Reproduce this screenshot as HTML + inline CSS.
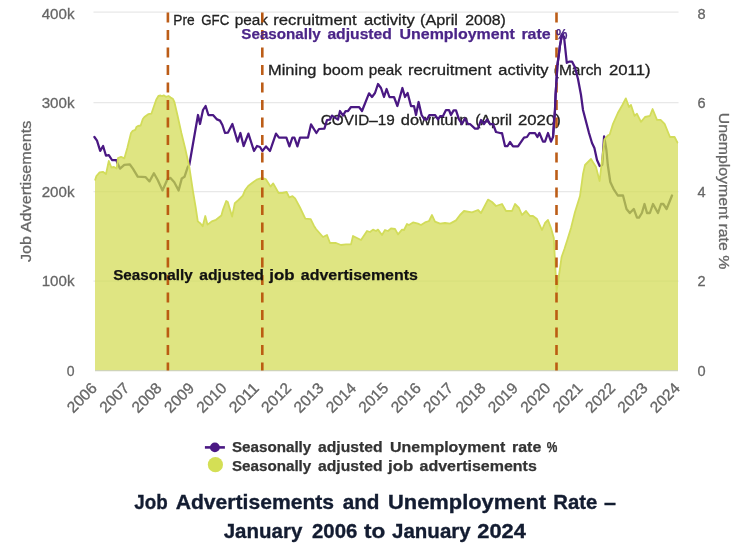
<!DOCTYPE html>
<html><head><meta charset="utf-8"><title>Job Advertisements and Unemployment Rate</title>
<style>html,body{margin:0;padding:0;background:#fff;}body{width:750px;height:560px;overflow:hidden;}svg{display:block;}text{font-family:"Liberation Sans",sans-serif;}</style></head><body>
<svg width="750" height="560" viewBox="0 0 750 560">
<defs><clipPath id="ac"><polygon points="95,180.4 96.4,176 99.6,172.3 102.9,171.8 106,174 108.8,161 111.4,167.5 114,167 116.6,168.5 118,158 121,156.8 124.3,158.4 127.3,148 131,133 132.7,130.8 135.3,129.8 136.4,127 138,126 140.7,125.5 142.8,119 144.4,117 148.2,114.2 151.4,113.7 153,109 156.2,99.8 158.4,96 160.5,95.5 162.1,96.2 163.7,95.3 165.9,96.8 168.5,96 170.7,97.6 172.8,98.7 174.4,102 177.6,115.8 181.4,133 185.1,148 189.3,167 193,191.4 195.7,207.5 197.8,221.4 200.5,223.5 202.7,226.2 205.3,216 207.5,224.6 209.1,223.5 211.8,221.4 216,219.8 221.4,215.5 223,209.6 226.2,201 227.8,202.1 232.1,216.6 234.8,203.2 238.5,200 242.8,195.7 245,190.3 248.2,186 252.4,182.8 256.7,179.6 259.9,178.6 262.5,178 265.7,179.1 270.5,186.6 273.2,183.4 278.6,193 282.3,193 286.6,192 289.3,197.3 292.5,196.2 295.1,198.4 300,207.5 305.3,218.7 310.7,219.2 313.9,225.7 316,229 323,237 327,235 330,243 336,243 341,245 346,244.4 351,244.4 353,236 361,240 367,231 370,232 373,229.6 376,231 378,229.6 382,235 385,230 388,231 391,228.4 395,229 398,234.4 402,229.6 404,230 407,224 409,225 413,222.4 418,223.6 421,225 425,222.4 429,221 432,215 435,221.6 440,223.6 445,223 450,223.6 456,220.4 460,215 464,211 472,212.4 478,210 481,213 488,199.6 492,202 496,206 502,204 506,211 512,211 515,204 519,208 522,215 526,211 530,216 533,216 537,219 542,230 545,223 548,220 551,228 553.8,238 556.6,291 559.2,274 561.6,257 564.4,249 567.3,240 571,228 575,212 580,196 583,174 585,165 591,159 596,167 599.6,181 604.4,139.5 607.7,135.6 609.7,134.5 613,123.8 617.8,113 622.4,105 625.8,98.4 629,107 631,105 634.5,115.8 637,113.8 641,121.8 645,117 650,115.8 652.6,109 657,119.8 660.6,119.8 664.6,123.8 670,137 674.6,137 677.5,142.6 678,143 678,370.5 95,370.5"/></clipPath></defs>
<rect width="750" height="560" fill="#ffffff"/>
<g style="filter:blur(0.45px)">
<line x1="93.5" x2="678.5" y1="12" y2="12" stroke="#e8e8e8" stroke-width="1.25"/>
<line x1="93.5" x2="678.5" y1="102.7" y2="102.7" stroke="#e8e8e8" stroke-width="1.25"/>
<line x1="93.5" x2="678.5" y1="191.7" y2="191.7" stroke="#e8e8e8" stroke-width="1.25"/>
<line x1="93.5" x2="678.5" y1="281" y2="281" stroke="#e8e8e8" stroke-width="1.25"/>
<g fill="#222222" stroke="#222222" stroke-width="0.3" font-size="15.5">
<text x="173.3" y="25" textLength="21.4" lengthAdjust="spacingAndGlyphs">Pre</text>
<text x="201.3" y="25" textLength="28.0" lengthAdjust="spacingAndGlyphs">GFC</text>
<text x="234.7" y="25" textLength="33.3" lengthAdjust="spacingAndGlyphs">peak</text>
<text x="273.3" y="25" textLength="83.3" lengthAdjust="spacingAndGlyphs">recruitment</text>
<text x="364.0" y="25" textLength="50.7" lengthAdjust="spacingAndGlyphs">activity</text>
<text x="420.0" y="25" textLength="37.9" lengthAdjust="spacingAndGlyphs">(April</text>
<text x="465.3" y="25" textLength="40.6" lengthAdjust="spacingAndGlyphs">2008)</text>
<text x="268.0" y="75" textLength="48.5" lengthAdjust="spacingAndGlyphs">Mining</text>
<text x="322.7" y="75" textLength="40.8" lengthAdjust="spacingAndGlyphs">boom</text>
<text x="368.8" y="75" textLength="33.1" lengthAdjust="spacingAndGlyphs">peak</text>
<text x="408.0" y="75" textLength="83.5" lengthAdjust="spacingAndGlyphs">recruitment</text>
<text x="498.3" y="75" textLength="50.3" lengthAdjust="spacingAndGlyphs">activity</text>
<text x="553.8" y="75" textLength="48.2" lengthAdjust="spacingAndGlyphs">(March</text>
<text x="609.0" y="75" textLength="41.5" lengthAdjust="spacingAndGlyphs">2011)</text>
<text x="320.8" y="125" textLength="73.9" lengthAdjust="spacingAndGlyphs">COVID–19</text>
<text x="400.8" y="125" textLength="67.5" lengthAdjust="spacingAndGlyphs">downturn</text>
<text x="475.2" y="125" textLength="36.8" lengthAdjust="spacingAndGlyphs">(April</text>
<text x="518.0" y="125" textLength="42.8" lengthAdjust="spacingAndGlyphs">2020)</text>
</g>
<polyline points="94.4,137 97,140.7 100.2,150.9 103.1,146 106,155.7 108.8,155.2 112,160 116.3,160 117.3,163 120,168.6 124.3,164.8 129.7,164.3 132.9,168.6 137.7,176.6 145.7,177.2 149.5,181.4 153.9,173.2 157.7,180 162.5,190.5 167.3,179.5 170.5,177.9 174.3,182.2 178.6,190.5 181.8,178.4 184.5,176.8 187.7,167.1 189.3,165 198,115 200,124 203,110 205.6,106 208.4,115 213,115 217,119.4 220,120.6 222.4,125 225,133 228,132.6 232.4,124 237.6,141.6 240.4,133 243.6,146 248.4,133.6 254,151 257,146 260,147 262.4,151 266,146.4 270,151 276,133.6 279,137.6 286.4,137.6 289.4,146.4 292.4,137.6 294.4,137.6 297.4,146.4 300,137.6 308,137.6 311,124.4 316.4,133 319,129 324.4,128.6 327,120 330,119.6 332,115.6 338,119.6 340,111 343,115.6 345.6,111 348,111 351,107 359,107 362,111 369,93.3 372,97 375,93 378,84 381,88 384,97 386.6,89 389.4,97 394,97 397.4,106 402.4,88 405,97 407.6,93 411,106 414,106 416,115 418.6,102 421.6,115 424.4,119.4 427,119.4 429.4,115 435,115 438,119.4 440.4,116 443,116 446,110 449,110 451,115 453.6,110.4 456,110.4 459,119.4 462,124 465,118.4 468,124 470,124 475,128.6 478,128.6 481,120 484,124 487,119.6 490,124 493,124 496,132 500,133 502,133 505,146 507.6,146 510,142 513,146.4 518,146.4 524,137.6 527,137 529.6,133 535,133 537.4,137 539.4,133 543,141.6 545,141.6 548,133 551,141.6 553,137 555,110 555.6,95 557.4,65.5 560,45.4 562,34.7 564,36.7 566.8,62.8 569.5,61.5 572,61.5 574.8,66.9 578,79 581,95 583,110 589,133 592,143 594.4,148 597,160 599.7,166 602.2,165 604.1,136.3 606.4,150 607.8,165 610.3,182 613.5,188.8 617.8,195.5 623,195.5 626.5,209 629.8,213 633.8,209 637,217.6 639,217.6 641.9,213 644.5,204 647,213 649.9,213 653,204 658,213 661,204 663.3,204 666.6,209 672,195.5" fill="none" stroke="#4a1883" stroke-width="2.25" stroke-linejoin="round" stroke-linecap="round"/>
<polygon points="95,180.4 96.4,176 99.6,172.3 102.9,171.8 106,174 108.8,161 111.4,167.5 114,167 116.6,168.5 118,158 121,156.8 124.3,158.4 127.3,148 131,133 132.7,130.8 135.3,129.8 136.4,127 138,126 140.7,125.5 142.8,119 144.4,117 148.2,114.2 151.4,113.7 153,109 156.2,99.8 158.4,96 160.5,95.5 162.1,96.2 163.7,95.3 165.9,96.8 168.5,96 170.7,97.6 172.8,98.7 174.4,102 177.6,115.8 181.4,133 185.1,148 189.3,167 193,191.4 195.7,207.5 197.8,221.4 200.5,223.5 202.7,226.2 205.3,216 207.5,224.6 209.1,223.5 211.8,221.4 216,219.8 221.4,215.5 223,209.6 226.2,201 227.8,202.1 232.1,216.6 234.8,203.2 238.5,200 242.8,195.7 245,190.3 248.2,186 252.4,182.8 256.7,179.6 259.9,178.6 262.5,178 265.7,179.1 270.5,186.6 273.2,183.4 278.6,193 282.3,193 286.6,192 289.3,197.3 292.5,196.2 295.1,198.4 300,207.5 305.3,218.7 310.7,219.2 313.9,225.7 316,229 323,237 327,235 330,243 336,243 341,245 346,244.4 351,244.4 353,236 361,240 367,231 370,232 373,229.6 376,231 378,229.6 382,235 385,230 388,231 391,228.4 395,229 398,234.4 402,229.6 404,230 407,224 409,225 413,222.4 418,223.6 421,225 425,222.4 429,221 432,215 435,221.6 440,223.6 445,223 450,223.6 456,220.4 460,215 464,211 472,212.4 478,210 481,213 488,199.6 492,202 496,206 502,204 506,211 512,211 515,204 519,208 522,215 526,211 530,216 533,216 537,219 542,230 545,223 548,220 551,228 553.8,238 556.6,291 559.2,274 561.6,257 564.4,249 567.3,240 571,228 575,212 580,196 583,174 585,165 591,159 596,167 599.6,181 604.4,139.5 607.7,135.6 609.7,134.5 613,123.8 617.8,113 622.4,105 625.8,98.4 629,107 631,105 634.5,115.8 637,113.8 641,121.8 645,117 650,115.8 652.6,109 657,119.8 660.6,119.8 664.6,123.8 670,137 674.6,137 677.5,142.6 678,143 678,370.5 95,370.5" fill="#dfe582"/>
<g clip-path="url(#ac)">
<line x1="93.5" x2="678.5" y1="12" y2="12" stroke="#d9e07c" stroke-width="1.25"/>
<line x1="93.5" x2="678.5" y1="102.7" y2="102.7" stroke="#d9e07c" stroke-width="1.25"/>
<line x1="93.5" x2="678.5" y1="191.7" y2="191.7" stroke="#d9e07c" stroke-width="1.25"/>
<line x1="93.5" x2="678.5" y1="281" y2="281" stroke="#d9e07c" stroke-width="1.25"/>
<polyline points="94.4,137 97,140.7 100.2,150.9 103.1,146 106,155.7 108.8,155.2 112,160 116.3,160 117.3,163 120,168.6 124.3,164.8 129.7,164.3 132.9,168.6 137.7,176.6 145.7,177.2 149.5,181.4 153.9,173.2 157.7,180 162.5,190.5 167.3,179.5 170.5,177.9 174.3,182.2 178.6,190.5 181.8,178.4 184.5,176.8 187.7,167.1 189.3,165 198,115 200,124 203,110 205.6,106 208.4,115 213,115 217,119.4 220,120.6 222.4,125 225,133 228,132.6 232.4,124 237.6,141.6 240.4,133 243.6,146 248.4,133.6 254,151 257,146 260,147 262.4,151 266,146.4 270,151 276,133.6 279,137.6 286.4,137.6 289.4,146.4 292.4,137.6 294.4,137.6 297.4,146.4 300,137.6 308,137.6 311,124.4 316.4,133 319,129 324.4,128.6 327,120 330,119.6 332,115.6 338,119.6 340,111 343,115.6 345.6,111 348,111 351,107 359,107 362,111 369,93.3 372,97 375,93 378,84 381,88 384,97 386.6,89 389.4,97 394,97 397.4,106 402.4,88 405,97 407.6,93 411,106 414,106 416,115 418.6,102 421.6,115 424.4,119.4 427,119.4 429.4,115 435,115 438,119.4 440.4,116 443,116 446,110 449,110 451,115 453.6,110.4 456,110.4 459,119.4 462,124 465,118.4 468,124 470,124 475,128.6 478,128.6 481,120 484,124 487,119.6 490,124 493,124 496,132 500,133 502,133 505,146 507.6,146 510,142 513,146.4 518,146.4 524,137.6 527,137 529.6,133 535,133 537.4,137 539.4,133 543,141.6 545,141.6 548,133 551,141.6 553,137 555,110 555.6,95 557.4,65.5 560,45.4 562,34.7 564,36.7 566.8,62.8 569.5,61.5 572,61.5 574.8,66.9 578,79 581,95 583,110 589,133 592,143 594.4,148 597,160 599.7,166 602.2,165 604.1,136.3 606.4,150 607.8,165 610.3,182 613.5,188.8 617.8,195.5 623,195.5 626.5,209 629.8,213 633.8,209 637,217.6 639,217.6 641.9,213 644.5,204 647,213 649.9,213 653,204 658,213 661,204 663.3,204 666.6,209 672,195.5" fill="none" stroke="#a8ae55" stroke-width="2.3" stroke-linejoin="round" stroke-linecap="round"/>
</g>
<polyline points="95,180.4 96.4,176 99.6,172.3 102.9,171.8 106,174 108.8,161 111.4,167.5 114,167 116.6,168.5 118,158 121,156.8 124.3,158.4 127.3,148 131,133 132.7,130.8 135.3,129.8 136.4,127 138,126 140.7,125.5 142.8,119 144.4,117 148.2,114.2 151.4,113.7 153,109 156.2,99.8 158.4,96 160.5,95.5 162.1,96.2 163.7,95.3 165.9,96.8 168.5,96 170.7,97.6 172.8,98.7 174.4,102 177.6,115.8 181.4,133 185.1,148 189.3,167 193,191.4 195.7,207.5 197.8,221.4 200.5,223.5 202.7,226.2 205.3,216 207.5,224.6 209.1,223.5 211.8,221.4 216,219.8 221.4,215.5 223,209.6 226.2,201 227.8,202.1 232.1,216.6 234.8,203.2 238.5,200 242.8,195.7 245,190.3 248.2,186 252.4,182.8 256.7,179.6 259.9,178.6 262.5,178 265.7,179.1 270.5,186.6 273.2,183.4 278.6,193 282.3,193 286.6,192 289.3,197.3 292.5,196.2 295.1,198.4 300,207.5 305.3,218.7 310.7,219.2 313.9,225.7 316,229 323,237 327,235 330,243 336,243 341,245 346,244.4 351,244.4 353,236 361,240 367,231 370,232 373,229.6 376,231 378,229.6 382,235 385,230 388,231 391,228.4 395,229 398,234.4 402,229.6 404,230 407,224 409,225 413,222.4 418,223.6 421,225 425,222.4 429,221 432,215 435,221.6 440,223.6 445,223 450,223.6 456,220.4 460,215 464,211 472,212.4 478,210 481,213 488,199.6 492,202 496,206 502,204 506,211 512,211 515,204 519,208 522,215 526,211 530,216 533,216 537,219 542,230 545,223 548,220 551,228 553.8,238 556.6,291 559.2,274 561.6,257 564.4,249 567.3,240 571,228 575,212 580,196 583,174 585,165 591,159 596,167 599.6,181 604.4,139.5 607.7,135.6 609.7,134.5 613,123.8 617.8,113 622.4,105 625.8,98.4 629,107 631,105 634.5,115.8 637,113.8 641,121.8 645,117 650,115.8 652.6,109 657,119.8 660.6,119.8 664.6,123.8 670,137 674.6,137 677.5,142.6 678,143" fill="none" stroke="#d2dc5a" stroke-width="1.8" stroke-linejoin="round"/>
<line x1="95" x2="678" y1="370.5" y2="370.5" stroke="#cfd4b8" stroke-width="1.25"/>
<line x1="167.9" x2="167.9" y1="12.5" y2="370.5" stroke="#b8540c" stroke-opacity="0.95" stroke-width="2.6" stroke-dasharray="10 7.5"/>
<line x1="262.3" x2="262.3" y1="12.5" y2="370.5" stroke="#b8540c" stroke-opacity="0.95" stroke-width="2.6" stroke-dasharray="10 7.5"/>
<line x1="556.5" x2="556.5" y1="12.5" y2="370.5" stroke="#b8540c" stroke-opacity="0.95" stroke-width="2.6" stroke-dasharray="10 7.5"/>
<polyline points="553,137 555,110 555.6,95 557.4,65.5 560,45.4 562,34.7" fill="none" stroke="#4a1883" stroke-width="2.25" stroke-linejoin="round" stroke-linecap="round"/>
<g font-size="15.5" font-weight="bold" fill="#4b2588" stroke="#4b2588" stroke-width="0.25">
<text x="241.3" y="39" textLength="79.4" lengthAdjust="spacingAndGlyphs">Seasonally</text>
<text x="327.4" y="39" textLength="64.5" lengthAdjust="spacingAndGlyphs">adjusted</text>
<text x="399.5" y="39" textLength="115.2" lengthAdjust="spacingAndGlyphs">Unemployment</text>
<text x="521.4" y="39" textLength="29.3" lengthAdjust="spacingAndGlyphs">rate</text>
<text x="556.1" y="39" textLength="11.4" lengthAdjust="spacingAndGlyphs">%</text>
</g>
<g font-size="15.5" font-weight="bold" fill="#111111" stroke="#111111" stroke-width="0.25">
<text x="113.2" y="280" textLength="79.4" lengthAdjust="spacingAndGlyphs">Seasonally</text>
<text x="199.3" y="280" textLength="64.5" lengthAdjust="spacingAndGlyphs">adjusted</text>
<text x="269.3" y="280" textLength="25.3" lengthAdjust="spacingAndGlyphs">job</text>
<text x="300.8" y="280" textLength="117.1" lengthAdjust="spacingAndGlyphs">advertisements</text>
</g>
<g fill="#666666" stroke="#666666" stroke-width="0.3" font-size="15.5" text-anchor="end">
<text x="74.5" y="18.5" textLength="32.8" lengthAdjust="spacingAndGlyphs">400k</text>
<text x="74.5" y="107.5" textLength="32.8" lengthAdjust="spacingAndGlyphs">300k</text>
<text x="74.5" y="197" textLength="32.8" lengthAdjust="spacingAndGlyphs">200k</text>
<text x="74.5" y="286.3" textLength="32.8" lengthAdjust="spacingAndGlyphs">100k</text>
<text x="74.5" y="376.3" textLength="7.8" lengthAdjust="spacingAndGlyphs">0</text>
</g>
<g fill="#666666" stroke="#666666" stroke-width="0.3" font-size="15.5">
<text x="697.6" y="18.5" textLength="8.1" lengthAdjust="spacingAndGlyphs">8</text>
<text x="697.6" y="107.5" textLength="8.1" lengthAdjust="spacingAndGlyphs">6</text>
<text x="697.6" y="197" textLength="8.1" lengthAdjust="spacingAndGlyphs">4</text>
<text x="697.6" y="286.3" textLength="8.1" lengthAdjust="spacingAndGlyphs">2</text>
<text x="697.6" y="376.3" textLength="8.1" lengthAdjust="spacingAndGlyphs">0</text>
</g>
<text transform="translate(31.3,191.3) rotate(-90)" text-anchor="middle" font-size="15.5" fill="#666666" stroke="#666666" stroke-width="0.3" textLength="141.5" lengthAdjust="spacingAndGlyphs">Job Advertisements</text>
<text transform="translate(718.9,191) rotate(90)" text-anchor="middle" font-size="15.5" fill="#666666" stroke="#666666" stroke-width="0.3" textLength="156.5" lengthAdjust="spacingAndGlyphs">Unemployment rate %</text>
<g fill="#666666" stroke="#666666" stroke-width="0.3" font-size="15.5" text-anchor="end">
<text transform="translate(98.0,389.0) rotate(-45)" textLength="35" lengthAdjust="spacingAndGlyphs">2006</text>
<text transform="translate(130.4,389.0) rotate(-45)" textLength="35" lengthAdjust="spacingAndGlyphs">2007</text>
<text transform="translate(162.8,389.0) rotate(-45)" textLength="35" lengthAdjust="spacingAndGlyphs">2008</text>
<text transform="translate(195.2,389.0) rotate(-45)" textLength="35" lengthAdjust="spacingAndGlyphs">2009</text>
<text transform="translate(227.6,389.0) rotate(-45)" textLength="35" lengthAdjust="spacingAndGlyphs">2010</text>
<text transform="translate(259.9,389.0) rotate(-45)" textLength="35" lengthAdjust="spacingAndGlyphs">2011</text>
<text transform="translate(292.3,389.0) rotate(-45)" textLength="35" lengthAdjust="spacingAndGlyphs">2012</text>
<text transform="translate(324.7,389.0) rotate(-45)" textLength="35" lengthAdjust="spacingAndGlyphs">2013</text>
<text transform="translate(357.1,389.0) rotate(-45)" textLength="35" lengthAdjust="spacingAndGlyphs">2014</text>
<text transform="translate(389.5,389.0) rotate(-45)" textLength="35" lengthAdjust="spacingAndGlyphs">2015</text>
<text transform="translate(421.9,389.0) rotate(-45)" textLength="35" lengthAdjust="spacingAndGlyphs">2016</text>
<text transform="translate(454.3,389.0) rotate(-45)" textLength="35" lengthAdjust="spacingAndGlyphs">2017</text>
<text transform="translate(486.7,389.0) rotate(-45)" textLength="35" lengthAdjust="spacingAndGlyphs">2018</text>
<text transform="translate(519.0,389.0) rotate(-45)" textLength="35" lengthAdjust="spacingAndGlyphs">2019</text>
<text transform="translate(551.4,389.0) rotate(-45)" textLength="35" lengthAdjust="spacingAndGlyphs">2020</text>
<text transform="translate(583.8,389.0) rotate(-45)" textLength="35" lengthAdjust="spacingAndGlyphs">2021</text>
<text transform="translate(616.2,389.0) rotate(-45)" textLength="35" lengthAdjust="spacingAndGlyphs">2022</text>
<text transform="translate(648.6,389.0) rotate(-45)" textLength="35" lengthAdjust="spacingAndGlyphs">2023</text>
<text transform="translate(681.0,389.0) rotate(-45)" textLength="35" lengthAdjust="spacingAndGlyphs">2024</text>
</g>
<line x1="204.9" x2="224.9" y1="447.4" y2="447.4" stroke="#4a1883" stroke-width="2.6"/>
<circle cx="214.9" cy="447.4" r="4.9" fill="#4a1883"/>
<circle cx="215.4" cy="464.7" r="7.6" fill="#d4df55"/>
<g font-size="15.5" font-weight="bold" fill="#333333" stroke="#333333" stroke-width="0.25">
<text x="231.9" y="452.4" textLength="79.4" lengthAdjust="spacingAndGlyphs">Seasonally</text>
<text x="318.0" y="452.4" textLength="64.5" lengthAdjust="spacingAndGlyphs">adjusted</text>
<text x="390.1" y="452.4" textLength="115.2" lengthAdjust="spacingAndGlyphs">Unemployment</text>
<text x="512.0" y="452.4" textLength="29.3" lengthAdjust="spacingAndGlyphs">rate</text>
<text x="546.7" y="452.4" textLength="10.6" lengthAdjust="spacingAndGlyphs">%</text>
<text x="231.9" y="470.9" textLength="79.4" lengthAdjust="spacingAndGlyphs">Seasonally</text>
<text x="318.0" y="470.9" textLength="64.5" lengthAdjust="spacingAndGlyphs">adjusted</text>
<text x="388.0" y="470.9" textLength="25.3" lengthAdjust="spacingAndGlyphs">job</text>
<text x="419.5" y="470.9" textLength="117.3" lengthAdjust="spacingAndGlyphs">advertisements</text>
</g>
<g font-size="20.8" font-weight="bold" fill="#131c31" stroke="#131c31" stroke-width="0.35">
<text x="134.3" y="508.5" textLength="33.4" lengthAdjust="spacingAndGlyphs">Job</text>
<text x="175.7" y="508.5" textLength="158.4" lengthAdjust="spacingAndGlyphs">Advertisements</text>
<text x="342.7" y="508.5" textLength="36.8" lengthAdjust="spacingAndGlyphs">and</text>
<text x="388.0" y="508.5" textLength="158.1" lengthAdjust="spacingAndGlyphs">Unemployment</text>
<text x="553.3" y="508.5" textLength="44.0" lengthAdjust="spacingAndGlyphs">Rate</text>
<text x="604.0" y="508.5" textLength="12.0" lengthAdjust="spacingAndGlyphs">–</text>
<text x="223.7" y="538.3" textLength="78.6" lengthAdjust="spacingAndGlyphs">January</text>
<text x="312.0" y="538.3" textLength="45.3" lengthAdjust="spacingAndGlyphs">2006</text>
<text x="364.0" y="538.3" textLength="21.3" lengthAdjust="spacingAndGlyphs">to</text>
<text x="392.0" y="538.3" textLength="78.7" lengthAdjust="spacingAndGlyphs">January</text>
<text x="477.3" y="538.3" textLength="48.6" lengthAdjust="spacingAndGlyphs">2024</text>
</g>
</g>
</svg></body></html>
